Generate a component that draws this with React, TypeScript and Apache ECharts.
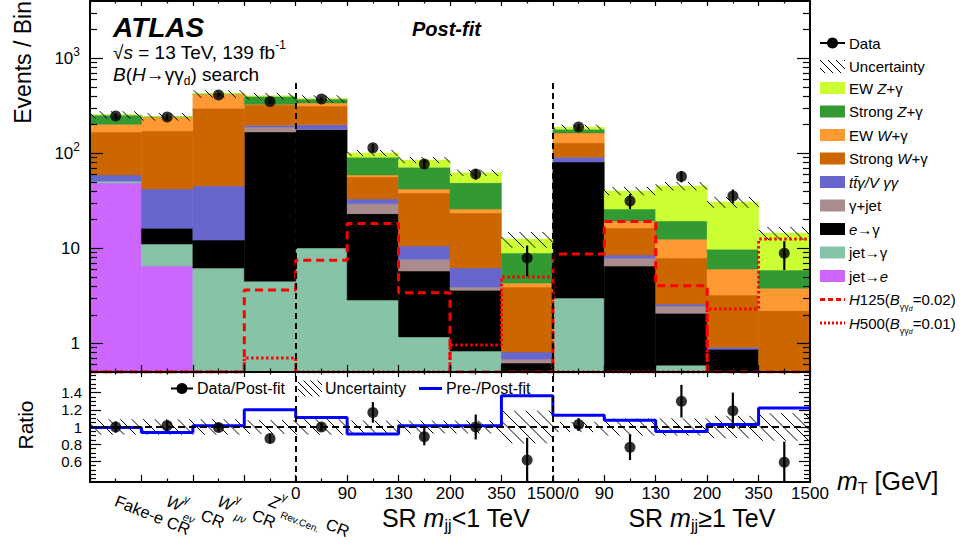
import React, { useEffect, useRef } from 'react';
import * as echarts from 'echarts';

const FONT = "'Liberation Sans', Arial, Helvetica, sans-serif";

// ---------------- data ----------------
const NBINS = 14;
// bin-edge tick labels (m_T in GeV)
const edgeLabels = ['', '', '', '', '0', '90', '130', '200', '350', '1500/0', '90', '130', '200', '350', '1500'];
// control-region labels under the first four bins
const crLabels = [
  '{t|Fake-e CR}',
  '{it|W}{sup|γ}{subi|eν} {t|CR}',
  '{it|W}{sup|γ}{subi|μν} {t|CR}',
  '{it|Z}{sup|γ}{sub|Rev.Cen.} {t|CR}',
  '', '', '', '', '', '', '', '', '', '',
];
const binCategories = ['b1', 'b2', 'b3', 'b4', 'b5', 'b6', 'b7', 'b8', 'b9', 'b10', 'b11', 'b12', 'b13', 'b14'];

// stacked backgrounds, bottom to top (events / bin)
const jetToE = [48.6, 6.5, 0, 0, 0, 0, 0, 0, 0, 0, 0, 0, 0, 0];
const jetToGamma = [2.3, 4.6, 6.2, 4.5, 10.1, 2.86, 1.17, 0.83, 0.15, 3.0, 0.3, 0.59, 0.1, 0.1];
const eToGamma = [0, 5.2, 6.0, 163, 168, 20.3, 4.6, 2.8, 0.47, 78, 6.2, 1.49, 0.77, 0.1];
const gammaJet = [0, 0, 0, 21, 1, 6.2, 1.9, 0.28, 0.06, 0, 1.4, 0.39, 0, 0];
const ttGammaVGG = [8.2, 25.7, 33, 9, 20, 3.6, 2.9, 2.3, 0.13, 10, 0.6, 0.12, 0.04, 0.02];
const strongWg = [108, 130, 253, 125, 115, 23.4, 27.6, 17.3, 3.1, 37.5, 7.9, 5.3, 2.31, 2.0];
const ewWg = [35, 69, 122, 5, 24, 2.7, 3.8, 2.4, 0.4, 35, 3.0, 4.6, 2.83, 1.58];
const strongZg = [50, 1, 1, 71, 35, 32, 29.5, 23.1, 4.6, 16, 6.5, 6.9, 3.75, 2.1];
const ewZg = [1.5, 0.5, 0.5, 1, 0.5, 9.7, 13.5, 13.5, 3.6, 9, 14.3, 25.9, 20.9, 8.6];

// observed data
const dataObs = [247, 241, 411, 350, 373, 114, 77, 60.5, 7.9, 189, 31.5, 57, 35.6, 8.9];
// signal hypotheses (values < 0.5 sit below the axis)
const h125 = [0.3, 0.3, 0.3, 3.64, 7.5, 18.3, 3.41, 0.3, 0.3, 8.7, 19.1, 4.04, 0.3, 0.3];
const h500 = [0.2, 0.2, 0.2, 0.7, 0.2, 0.2, 0.2, 0.96, 5.0, 0.2, 0.2, 0.2, 2.3, 12.5];
// relative post-fit uncertainty
const relUnc = [0.09, 0.09, 0.09, 0.08, 0.09, 0.075, 0.075, 0.075, 0.19, 0.06, 0.1, 0.1, 0.13, 0.16];
// ratio panel
const ratioObs = [1.0, 1.016, 0.995, 0.866, 1.0, 1.17, 0.887, 1.0, 0.615, 1.028, 0.765, 1.3, 1.19, 0.59];
const ratioErr = [0.065, 0.065, 0.05, 0.055, 0.05, 0.12, 0.1, 0.145, 0.26, 0.075, 0.15, 0.19, 0.21, 0.24];
const preOverPost = [0.995, 0.935, 1.016, 1.2, 1.11, 0.92, 1.016, 1.016, 1.365, 1.138, 1.08, 0.947, 1.028, 1.22];

// axis ticks
const mainMajorTicks = [1, 10, 100, 1000];
const mainMinorTicks = [0.6, 0.7, 0.8, 0.9, 2, 3, 4, 5, 6, 7, 8, 9, 20, 30, 40, 50, 60, 70, 80, 90,
  200, 300, 400, 500, 600, 700, 800, 900, 2000, 3000];
const ratioMajorTicks = [0.6, 0.8, 1.0, 1.2, 1.4];
const ratioMinorTicks = [0.4, 0.45, 0.5, 0.55, 0.65, 0.7, 0.75, 0.85, 0.9, 0.95, 1.05, 1.1, 1.15,
  1.25, 1.3, 1.35, 1.45, 1.5, 1.55, 1.6];

const YMIN = 0.5, YMAX = 4000;
const RMIN = 0.36, RMAX = 1.64;

const COLORS = {
  jetToE: '#cc66ff', jetToGamma: '#86c3a7', eToGamma: '#000000', gammaJet: '#aa8c8f',
  ttGamma: '#6666cc', strongW: '#cc6600', ewW: '#ff9933', strongZ: '#339933', ewZ: '#ccff33',
};

// ---------------- helpers ----------------
function hatch(x0: number, y0: number, x1: number, y1: number, s: number, lw: number) {
  const ch: any[] = [];
  const kmin = Math.floor((x0 - y1) / s), kmax = Math.ceil((x1 - y0) / s);
  for (let k = kmin; k <= kmax; k++) {
    const d = k * s;
    let ya = y0, yb = y1;
    if (d + ya < x0) ya = x0 - d;
    if (d + yb > x1) yb = x1 - d;
    if (yb - ya <= 0.3) continue;
    ch.push({ type: 'line', shape: { x1: d + ya, y1: ya, x2: d + yb, y2: yb }, style: { stroke: '#000', lineWidth: lw } });
  }
  return ch;
}

function buildOption() {
  const comps = [
    { vals: jetToE, color: COLORS.jetToE },
    { vals: jetToGamma, color: COLORS.jetToGamma },
    { vals: eToGamma, color: COLORS.eToGamma },
    { vals: gammaJet, color: COLORS.gammaJet },
    { vals: ttGammaVGG, color: COLORS.ttGamma },
    { vals: strongWg, color: COLORS.strongW },
    { vals: ewWg, color: COLORS.ewW },
    { vals: strongZg, color: COLORS.strongZ },
    { vals: ewZg, color: COLORS.ewZ },
  ];
  let running = new Array(NBINS).fill(0);
  const stackSeries: any[] = comps.map((c) => {
    const d = c.vals.map((v, i) => [i, running[i], running[i] + v]);
    running = running.map((r, i) => r + c.vals[i]);
    return {
      type: 'custom', xAxisIndex: 0, yAxisIndex: 0, z: 2, silent: true,
      encode: { x: 0, y: 2 },
      data: d,
      renderItem: (params: any, api: any) => {
        const i = api.value(0);
        const lo = Math.max(api.value(1), YMIN), hi = Math.min(api.value(2), YMAX);
        if (!(hi > lo)) return { type: 'group', children: [] };
        const a = api.coord([i, hi]), b = api.coord([i + 1, lo]);
        return {
          type: 'rect',
          shape: { x: a[0], y: a[1], width: b[0] - a[0], height: b[1] - a[1] },
          style: { fill: c.color, stroke: c.color, lineWidth: 0.5 },
        };
      },
    };
  });
  const totals = running;

  const hatchRender = (ymin: number, ymax: number) => (params: any, api: any) => {
    const i = api.value(0);
    const lo = Math.max(api.value(1), ymin), hi = Math.min(api.value(2), ymax);
    const a = api.coord([i, hi]), b = api.coord([i + 1, lo]);
    return { type: 'group', children: hatch(a[0], a[1], b[0], b[1], 11.5, 1) };
  };
  const errRender = (ymin: number, ymax: number) => (params: any, api: any) => {
    const x = api.value(0);
    const lo = Math.max(api.value(1), ymin), hi = Math.min(api.value(2), ymax);
    const a = api.coord([x, hi]), b = api.coord([x, lo]);
    return { type: 'line', shape: { x1: a[0], y1: a[1], x2: b[0], y2: b[1] }, style: { stroke: '#000', lineWidth: 2.2 } };
  };
  const stepData = (arr: number[], floor: number) => {
    const d = arr.map((v, i) => [i, Math.max(v, floor)]);
    d.push([NBINS, Math.max(arr[NBINS - 1], floor)]);
    return d;
  };

  const axisLineStyle = { color: '#000', width: 2 };
  const tickStyle = { color: '#000', width: 1.2 };
  const xAx = (gridIndex: number, position: string, len: number, labels: boolean) => ({
    type: 'value', gridIndex, position, min: 0, max: NBINS, interval: 1, z: 10,
    axisLine: { show: true, onZero: false, lineStyle: axisLineStyle },
    axisTick: { show: true, inside: true, length: len, lineStyle: tickStyle },
    minorTick: { show: true, splitNumber: 2, length: len * 0.5, lineStyle: tickStyle },
    splitLine: { show: false }, minorSplitLine: { show: false },
    axisLabel: labels
      ? {
        show: true, margin: 3, fontSize: 17, fontFamily: FONT, color: '#000',
        showMinLabel: true, showMaxLabel: true,
        formatter: (v: number) => edgeLabels[Math.round(v)] ?? '',
      }
      : { show: false },
  });
  const yAx = (gridIndex: number, type: string, min: number, max: number, position: string,
    ticks: number[], len: number, line: boolean, label: any) => ({
    type, gridIndex, min, max, position, z: 10, logBase: 10,
    axisLine: { show: line, onZero: false, lineStyle: axisLineStyle },
    axisTick: { show: true, inside: true, length: len, customValues: ticks, lineStyle: tickStyle },
    minorTick: { show: false }, splitLine: { show: false },
    axisLabel: label ? { customValues: ticks, ...label } : { show: false },
  });

  const mainLabel = {
    show: true, margin: 10, fontSize: 17, fontFamily: FONT, color: '#000',
    formatter: (v: number) => {
      const e = Math.round(Math.log10(v));
      if (e === 0) return '1';
      if (e === 1) return '10';
      return '10{sup|' + e + '}';
    },
    rich: { sup: { fontSize: 12, fontFamily: FONT, verticalAlign: 'top', lineHeight: 10, color: '#000' } },
    lineHeight: 24,
  };
  const ratioLabel = {
    show: true, margin: 8, fontSize: 15, fontFamily: FONT, color: '#000',
    formatter: (v: number) => String(Math.round(v * 10) / 10),
  };

  const crRich = {
    t: { fontSize: 16.5, fontFamily: FONT, lineHeight: 28, color: '#000' },
    it: { fontSize: 16.5, fontFamily: FONT, fontStyle: 'italic', lineHeight: 28, color: '#000' },
    sup: { fontSize: 11, fontFamily: FONT, verticalAlign: 'top', lineHeight: 12, color: '#000' },
    sub: { fontSize: 10, fontFamily: FONT, verticalAlign: 'bottom', lineHeight: 12, color: '#000' },
    subi: { fontSize: 11, fontFamily: FONT, fontStyle: 'italic', verticalAlign: 'bottom', lineHeight: 12, color: '#000' },
  };

  const sepStyle = { type: [6, 4], color: '#000', width: 2 };

  const series: any[] = [
    ...stackSeries,
    {
      type: 'custom', xAxisIndex: 0, yAxisIndex: 0, z: 3, silent: true, encode: { x: 0, y: 2 },
      data: totals.map((t, i) => [i, t * (1 - relUnc[i]), t * (1 + relUnc[i])]),
      renderItem: hatchRender(YMIN, YMAX),
    },
    {
      type: 'line', xAxisIndex: 0, yAxisIndex: 0, z: 4, step: 'end', showSymbol: false, silent: true,
      data: stepData(h125, YMIN), lineStyle: { color: '#ff0000', width: 3, type: [8, 5] },
    },
    {
      type: 'line', xAxisIndex: 0, yAxisIndex: 0, z: 4, step: 'end', showSymbol: false, silent: true,
      data: stepData(h500, YMIN), lineStyle: { color: '#ff0000', width: 3, type: [2.5, 2.5] },
    },
    {
      type: 'custom', xAxisIndex: 0, yAxisIndex: 0, z: 5, silent: true, encode: { x: 0, y: 2 },
      data: dataObs.map((v, i) => [i + 0.5, v - Math.sqrt(v), v + Math.sqrt(v)]),
      renderItem: errRender(YMIN, YMAX),
    },
    {
      type: 'scatter', xAxisIndex: 0, yAxisIndex: 0, z: 6, symbol: 'circle', symbolSize: 11, silent: true,
      itemStyle: { color: '#000' },
      data: dataObs.map((v, i) => [i + 0.5, v]),
      markLine: {
        silent: true, symbol: 'none', label: { show: false }, lineStyle: sepStyle, animation: false,
        data: [
          [{ coord: [4, 550] }, { coord: [4, YMIN] }],
          [{ coord: [9, 550] }, { coord: [9, YMIN] }],
        ],
      },
    },
    // ratio panel
    {
      type: 'custom', xAxisIndex: 2, yAxisIndex: 4, z: 3, silent: true, encode: { x: 0, y: 2 },
      data: relUnc.map((u, i) => [i, 1 - u, 1 + u]),
      renderItem: hatchRender(RMIN, RMAX),
    },
    {
      type: 'line', xAxisIndex: 2, yAxisIndex: 4, z: 4, step: 'end', showSymbol: false, silent: true,
      data: stepData(preOverPost, RMIN), lineStyle: { color: '#0000ff', width: 3 },
      markLine: {
        silent: true, symbol: 'none', label: { show: false }, animation: false,
        data: [
          { yAxis: 1, lineStyle: { type: [7, 4], color: '#000', width: 2 } },
          { xAxis: 4, lineStyle: sepStyle },
          { xAxis: 9, lineStyle: sepStyle },
        ],
      },
    },
    {
      type: 'custom', xAxisIndex: 2, yAxisIndex: 4, z: 5, silent: true, encode: { x: 0, y: 2 },
      data: ratioObs.map((v, i) => [i + 0.5, v - ratioErr[i], v + ratioErr[i]]),
      renderItem: errRender(RMIN, RMAX),
    },
    {
      type: 'scatter', xAxisIndex: 2, yAxisIndex: 4, z: 6, symbol: 'circle', symbolSize: 11, silent: true,
      itemStyle: { color: '#000' },
      data: ratioObs.map((v, i) => [i + 0.5, v]),
    },
  ];

  // ---------------- texts & legends ----------------
  const T = (x: number, y: number, text: string, o: any = {}) => ({
    type: 'text', x, y, z: 100, silent: true,
    style: {
      text, fontFamily: FONT, fontSize: 15, fill: '#000',
      align: 'left', verticalAlign: 'middle', textAlign: 'left', textVerticalAlign: 'middle', ...o,
    },
  });
  const baseRich = (fs: number) => ({
    i: { fontFamily: FONT, fontSize: fs, fontStyle: 'italic', fill: '#000', color: '#000' },
    sup: { fontFamily: FONT, fontSize: Math.round(fs * 0.62), verticalAlign: 'top', lineHeight: 11, fill: '#000', color: '#000' },
    sub: { fontFamily: FONT, fontSize: Math.round(fs * 0.62), verticalAlign: 'bottom', lineHeight: 11, fill: '#000', color: '#000' },
    subi: { fontFamily: FONT, fontSize: Math.round(fs * 0.62), fontStyle: 'italic', verticalAlign: 'bottom', lineHeight: 11, fill: '#000', color: '#000' },
    ss: { fontFamily: FONT, fontSize: Math.round(fs * 0.45), fontStyle: 'italic', verticalAlign: 'bottom', lineHeight: 6, fill: '#000', color: '#000' },
  });
  const bigSubRich = (fs: number) => ({
    ...baseRich(fs),
    sub: { fontFamily: FONT, fontSize: Math.round(fs * 0.62), verticalAlign: 'bottom', lineHeight: 14, fill: '#000', color: '#000' },
  });

  const graphic: any[] = [];
  // header
  graphic.push(T(113, 27, 'ATLAS', { fontSize: 28, fontWeight: 'bold', fontStyle: 'italic' }));
  graphic.push(T(113, 52, '√{i|s} = 13 TeV, 139 fb{sup|-1}', { fontSize: 19, lineHeight: 26, rich: baseRich(19) }));
  graphic.push(T(113, 74, '{i|B}({i|H}→γγ{sub|d}) search', { fontSize: 19, lineHeight: 26, rich: baseRich(19) }));
  graphic.push(T(412, 29, 'Post-fit', { fontSize: 20, fontWeight: 'bold', fontStyle: 'italic' }));
  // axis titles
  graphic.push({
    type: 'text', x: 23, y: 1, rotation: Math.PI / 2, z: 100, silent: true,
    style: { text: 'Events / Bin', fontFamily: FONT, fontSize: 23, fill: '#000', align: 'right', verticalAlign: 'middle', textAlign: 'right', textVerticalAlign: 'middle' },
  });
  graphic.push({
    type: 'text', x: 25, y: 425, rotation: Math.PI / 2, z: 100, silent: true,
    style: { text: 'Ratio', fontFamily: FONT, fontSize: 21, fill: '#000', align: 'center', verticalAlign: 'middle', textAlign: 'center', textVerticalAlign: 'middle' },
  });
  graphic.push(T(837, 481, '{i|m}{sub|T} [GeV]', { fontSize: 25, lineHeight: 30, rich: bigSubRich(25) }));
  graphic.push(T(456, 518, 'SR {i|m}{sub|jj}<1 TeV', { fontSize: 25, lineHeight: 30, align: 'center', textAlign: 'center', rich: bigSubRich(25) }));
  graphic.push(T(702, 518, 'SR {i|m}{sub|jj}≥1 TeV', { fontSize: 25, lineHeight: 30, align: 'center', textAlign: 'center', rich: bigSubRich(25) }));

  // main legend
  const LX = 820, LW = 25, LTX = 849;
  const legRich = baseRich(15);
  const boxEntries = [
    { y: 88, color: COLORS.ewZ, text: 'EW {i|Z}+γ' },
    { y: 111.5, color: COLORS.strongZ, text: 'Strong {i|Z}+γ' },
    { y: 135, color: COLORS.ewW, text: 'EW {i|W}+γ' },
    { y: 158.5, color: COLORS.strongW, text: 'Strong {i|W}+γ' },
    { y: 182, color: COLORS.ttGamma, text: '{i|tt̄γ/V γγ}' },
    { y: 205.5, color: COLORS.gammaJet, text: 'γ+jet' },
    { y: 229, color: COLORS.eToGamma, text: '{i|e}→γ' },
    { y: 252.5, color: COLORS.jetToGamma, text: 'jet→γ' },
    { y: 276, color: COLORS.jetToE, text: 'jet→{i|e}' },
  ];
  graphic.push({ type: 'line', z: 100, silent: true, shape: { x1: LX, y1: 43, x2: LX + LW, y2: 43 }, style: { stroke: '#000', lineWidth: 2 } });
  graphic.push({ type: 'circle', z: 101, silent: true, shape: { cx: LX + LW / 2, cy: 43, r: 5.5 }, style: { fill: '#000' } });
  graphic.push(T(LTX, 43, 'Data'));
  graphic.push({ type: 'group', z: 100, silent: true, children: hatch(LX, 60, LX + LW, 73, 8, 1) });
  graphic.push(T(LTX, 66.5, 'Uncertainty'));
  boxEntries.forEach((e) => {
    graphic.push({ type: 'rect', z: 100, silent: true, shape: { x: LX, y: e.y - 6, width: LW, height: 12 }, style: { fill: e.color } });
    graphic.push(T(LTX, e.y, e.text, { rich: legRich }));
  });
  graphic.push({ type: 'line', z: 100, silent: true, shape: { x1: LX, y1: 299.5, x2: LX + LW, y2: 299.5 }, style: { stroke: '#ff0000', lineWidth: 3, lineDash: [5, 3] } });
  graphic.push(T(LTX, 299.5, '{i|H}125({i|B}{sub|γγ}{ss|d}=0.02)', { lineHeight: 24, rich: legRich }));
  graphic.push({ type: 'line', z: 100, silent: true, shape: { x1: LX, y1: 323, x2: LX + LW, y2: 323 }, style: { stroke: '#ff0000', lineWidth: 3, lineDash: [2, 2] } });
  graphic.push(T(LTX, 323, '{i|H}500({i|B}{sub|γγ}{ss|d}=0.01)', { lineHeight: 24, rich: legRich }));

  // ratio legend
  const RY = 388.5;
  graphic.push({ type: 'line', z: 100, silent: true, shape: { x1: 171, y1: RY, x2: 193, y2: RY }, style: { stroke: '#000', lineWidth: 2 } });
  graphic.push({ type: 'circle', z: 101, silent: true, shape: { cx: 182, cy: RY, r: 5.5 }, style: { fill: '#000' } });
  graphic.push(T(197, RY, 'Data/Post-fit', { fontSize: 16 }));
  graphic.push({ type: 'group', z: 100, silent: true, children: hatch(298, RY - 8, 322, RY + 8, 7, 1) });
  graphic.push(T(325, RY, 'Uncertainty', { fontSize: 16 }));
  graphic.push({ type: 'line', z: 100, silent: true, shape: { x1: 419, y1: RY, x2: 442, y2: RY }, style: { stroke: '#0000ff', lineWidth: 3 } });
  graphic.push(T(446, RY, 'Pre-/Post-fit', { fontSize: 16 }));

  return {
    animation: false,
    backgroundColor: '#ffffff',
    textStyle: { fontFamily: FONT },
    grid: [
      { left: 90, top: 1, width: 720, height: 371 },
      { left: 90, top: 372, width: 720, height: 110 },
    ],
    xAxis: [
      xAx(0, 'bottom', 7, false),
      xAx(0, 'top', 5, false),
      xAx(1, 'bottom', 7, true),
      xAx(1, 'top', 5, false),
      {
        type: 'category', gridIndex: 1, position: 'bottom', data: binCategories, z: 10,
        axisLine: { show: false }, axisTick: { show: false }, splitLine: { show: false },
        axisLabel: {
          show: true, interval: 0, rotate: -22, margin: 18, fontFamily: FONT, fontSize: 16.5, color: '#000',
          formatter: (v: string, idx: number) => crLabels[idx] ?? '',
          rich: crRich,
        },
      },
    ],
    yAxis: [
      yAx(0, 'log', YMIN, YMAX, 'left', mainMajorTicks, 13, true, mainLabel),
      yAx(0, 'log', YMIN, YMAX, 'left', mainMinorTicks, 7, false, null),
      yAx(0, 'log', YMIN, YMAX, 'right', mainMajorTicks, 13, true, null),
      yAx(0, 'log', YMIN, YMAX, 'right', mainMinorTicks, 7, false, null),
      yAx(1, 'value', RMIN, RMAX, 'left', ratioMajorTicks, 11, true, ratioLabel),
      yAx(1, 'value', RMIN, RMAX, 'left', ratioMinorTicks, 6, false, null),
      yAx(1, 'value', RMIN, RMAX, 'right', ratioMajorTicks, 11, true, null),
      yAx(1, 'value', RMIN, RMAX, 'right', ratioMinorTicks, 6, false, null),
    ],
    series,
    graphic,
  };
}

export default function App() {
  const ref = useRef<HTMLDivElement>(null);
  useEffect(() => {
    const chart = echarts.init(ref.current!, null, { renderer: 'svg' });
    chart.setOption(buildOption() as any);
    return () => chart.dispose();
  }, []);
  return (
    <div
      ref={ref}
      style={{ position: 'absolute', left: 0, top: 0, width: 962, height: 547, background: '#fff' }}
    />
  );
}
